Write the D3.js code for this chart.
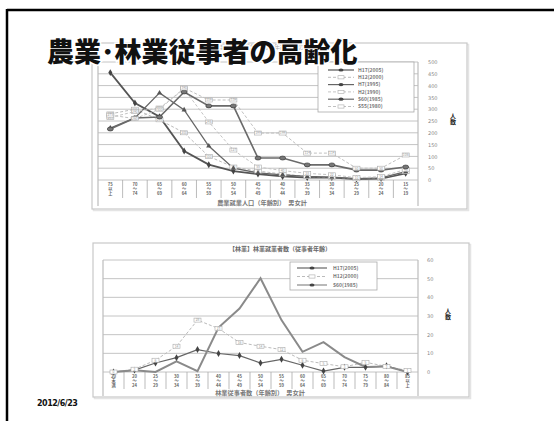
<!DOCTYPE html>
<html><head><meta charset="utf-8">
<script src="https://cdn.jsdelivr.net/npm/d3@7"></script>
<style>body{margin:0;background:#fff} svg{display:block;font-family:"Noto Sans CJK JP","Noto Sans",sans-serif}</style>
</head><body><svg id="c" width="554" height="421"></svg>
<script>
// ---------- data ----------
const topCategories = ["75|以|上","70|～|74","65|～|69","60|～|64","55|～|59","50|～|54","45|～|49","40|～|44","35|～|39","30|～|34","25|～|29","20|～|24","15|～|19"];
const topSeriesNames = ["H17(2005)","H12(2000)","H7(1995)","H2(1990)","S60(1985)","S55(1980)"];
const topH17 = [455, 326, 268, 123, 65, 38, 25, 15, 10, 10, 4, 6, 28];
const topH12 = [280, 300, 255, 200, 100, 55, 38, 25, 15, 12, 5, 8, 35];
const topH7  = [220, 263, 369, 297, 144, 50, 30, 22, 15, 12, 6, 9, 35];
const topH2  = [265, 290, 305, 385, 246, 127, 55, 40, 28, 22, 10, 14, 45];
const topS60 = [216, 263, 267, 373, 314, 314, 93, 93, 64, 64, 42, 42, 55];
const topS55 = [275, 260, 300, 390, 339, 339, 199, 199, 114, 114, 50, 50, 106];
const topTicks = [0,50,100,150,200,250,300,350,400,450,500];

const botCategories = ["20|未|満","20|～|24","25|～|29","30|～|34","35|～|39","40|～|44","45|～|49","50|～|54","55|～|59","60|～|64","65|～|69","70|～|74","75|～|79","80|～|84","85|以|上"];
const botSeriesNames = ["H17(2005)","H12(2000)","S60(1985)"];
const botH17 = [0, 1, 4.8, 7.7, 12, 9.9, 8.8, 4.8, 6.8, 3.6, 0.5, 2.5, 2.5, 3.3, 0];
const botH12 = [0, 1.5, 6.3, 13.8, 27.8, 23.3, 15.8, 13.8, 12, 6.3, 4.5, 2.8, 5.2, 3, 0.8];
const botS60 = [0, 1, 0, 5.7, 0.5, 23.8, 34, 50.2, 27.8, 10.8, 16, 8, 2.7, 3, 0];
const botTicks = [0,10,20,30,40,50,60];

// ---------- drawing ----------
const svg = d3.select("#c");

function frame(x0,y0,x1,y1){
  svg.append("rect").attr("x",x0+1.5).attr("y",y0+1.5).attr("width",x1-x0).attr("height",y1-y0)
    .attr("fill","none").attr("stroke","#e4e4e4").attr("stroke-width",1.5);
  svg.append("rect").attr("x",x0).attr("y",y0).attr("width",x1-x0).attr("height",y1-y0)
    .attr("fill","#fff").attr("stroke","#c8c8c8").attr("stroke-width",1.2);
}

function chart(opt){
  const x = d3.scaleBand().domain(opt.cats).range([opt.left, opt.right]);
  const y = d3.scaleLinear().domain(opt.domain).range([opt.bottom, opt.top]);
  const g = svg.append("g");
  g.append("g").selectAll("line").data(opt.ticks).join("line")
    .attr("x1",opt.left).attr("x2",opt.right).attr("y1",d=>y(d)).attr("y2",d=>y(d))
    .attr("stroke","#c4c4c4").attr("stroke-width",1);
  g.append("line").attr("x1",opt.left).attr("x2",opt.left).attr("y1",opt.top).attr("y2",opt.bottom+opt.labH)
    .attr("stroke","#bdbdbd").attr("stroke-width",1.2);
  g.append("line").attr("x1",opt.right).attr("x2",opt.right).attr("y1",opt.top).attr("y2",opt.bottom+opt.labH)
    .attr("stroke","#bdbdbd").attr("stroke-width",1.2);
  g.append("g").selectAll("line").data(opt.cats.slice(1)).join("line")
    .attr("x1",d=>x(d)).attr("x2",d=>x(d)).attr("y1",opt.bottom).attr("y2",opt.bottom+opt.sepH)
    .attr("stroke","#aaa").attr("stroke-width",0.8);
  const lab = g.append("g").selectAll("text").data(opt.cats).join("text")
    .attr("text-anchor","middle").attr("font-size",4.2).attr("fill","#666").attr("font-weight","bold");
  lab.each(function(d){
    const t = d3.select(this);
    d.split("|").forEach((p,i)=>{
      t.append("tspan").attr("x",x(d)+x.bandwidth()/2).attr("y",opt.bottom+6+i*4.4).text(p);
    });
  });
  const ax = g.append("g").attr("transform",`translate(${opt.axisX},0)`)
    .call(d3.axisRight(y).tickValues(opt.ticks).tickSize(0).tickPadding(0));
  ax.select(".domain").remove();
  ax.selectAll("text").attr("font-size",5).attr("fill","#888").attr("font-family","'DejaVu Sans',sans-serif");
  g.append("text").attr("x",opt.unitX).attr("y",opt.unitY).attr("font-size",6).attr("font-weight","bold")
    .attr("fill","#222").attr("text-anchor","middle").selectAll("tspan").data(["人","数"]).join("tspan")
    .attr("x",opt.unitX).attr("dy",(d,i)=>i?5.5:0).text(d=>d);
  g.append("text").attr("x",opt.titleX).attr("y",opt.titleY).attr("text-anchor","middle")
    .attr("font-size",6.2).attr("fill","#777").attr("font-weight","bold").text(opt.xTitle);
  const cx = d=>x(d)+x.bandwidth()/2;
  opt.series.forEach(s=>{
    const line = d3.line().x((v,i)=>cx(opt.cats[i])).y(v=>y(v));
    g.append("path").attr("d",line(s.values)).attr("fill","none")
      .attr("stroke",s.color).attr("stroke-width",s.width).attr("stroke-dasharray",s.dash||null);
  });
  opt.series.forEach(s=>{
    const m = g.append("g").selectAll("g").data(s.values).join("g")
      .attr("transform",(v,i)=>`translate(${cx(opt.cats[i])},${y(v)})`);
    if(s.marker==="box"){
      m.append("rect").attr("x",-3.5).attr("y",-2).attr("width",7).attr("height",4)
        .attr("fill","#fff").attr("stroke","#aaa").attr("stroke-width",0.6);
      m.append("text").attr("text-anchor","middle").attr("y",1.3).attr("font-size",3.4).attr("fill","#999").text(v=>Math.round(v));
    } else if(s.marker==="diamond"){
      m.append("path").attr("d",d3.symbol(d3.symbolDiamond,14)).attr("fill","#444");
    } else if(s.marker==="triangle"){
      m.append("path").attr("d",d3.symbol(d3.symbolTriangle,12)).attr("fill","#555");
    } else if(s.marker==="circle"){
      m.append("ellipse").attr("rx",3).attr("ry",2).attr("fill","#777").attr("stroke","#333").attr("stroke-width",0.6);
    }
  });
  const L = opt.legend;
  g.append("rect").attr("x",L.x).attr("y",L.y).attr("width",L.w).attr("height",L.h)
    .attr("fill","#fff").attr("stroke","#aaa").attr("stroke-width",0.8);
  opt.series.forEach((s,i)=>{
    const ly = L.y + L.pad + i*L.step;
    g.append("line").attr("x1",L.x+L.lx0).attr("x2",L.x+L.lx1).attr("y1",ly).attr("y2",ly)
      .attr("stroke",s.color).attr("stroke-width",Math.min(s.width,1.2)).attr("stroke-dasharray",s.dash||null);
    const mx = L.x+(L.lx0+L.lx1)/2;
    if(s.marker==="box"){
      g.append("rect").attr("x",mx-3).attr("y",ly-1.6).attr("width",6).attr("height",3.2)
        .attr("fill","#fff").attr("stroke","#aaa").attr("stroke-width",0.6);
    } else {
      g.append("ellipse").attr("cx",mx).attr("cy",ly).attr("rx",2.5).attr("ry",1.6).attr("fill","#444");
    }
    g.append("text").attr("x",L.x+L.tx).attr("y",ly+1.8).attr("font-size",5).attr("fill","#777")
      .attr("font-weight","bold").text(s.name);
  });
}

// slide border
svg.append("line").attr("x1",7).attr("x2",554).attr("y1",10).attr("y2",10).attr("stroke","#000").attr("stroke-width",2.5);
svg.append("line").attr("x1",7).attr("x2",7).attr("y1",9).attr("y2",421).attr("stroke","#000").attr("stroke-width",2.5);

// top chart
frame(92,43,467,209);
svg.append("text").attr("x",262).attr("y",49).attr("text-anchor","middle").attr("font-size",6)
  .attr("fill","#aaa").text("【農業】農業就業人口（年齢別）の推移");
chart({
  cats: topCategories, domain:[0,500], ticks: topTicks,
  left:98, right:418, top:62, bottom:180, labH:26, sepH:18, axisX:428,
  unitX:453, unitY:118, titleX:262, titleY:204.5, xTitle:"農業就業人口（年齢別）　男女計",
  series:[
    {name:topSeriesNames[0], values:topH17, color:"#555", width:1.8, marker:"diamond"},
    {name:topSeriesNames[1], values:topH12, color:"#bbb", width:1, dash:"3,2", marker:"box"},
    {name:topSeriesNames[2], values:topH7,  color:"#666", width:1.3, marker:"triangle"},
    {name:topSeriesNames[3], values:topH2,  color:"#c4c4c4", width:1, dash:"3,2", marker:"box"},
    {name:topSeriesNames[4], values:topS60, color:"#6a6a6a", width:1.6, marker:"circle"},
    {name:topSeriesNames[5], values:topS55, color:"#c0c0c0", width:1, dash:"3,2", marker:"box"}
  ],
  legend:{x:318,y:62,w:96,h:50,pad:8,step:7.3,lx0:10,lx1:36,tx:40}
});

// bottom chart
frame(93,243,469,397);
svg.append("text").attr("x",280).attr("y",251).attr("text-anchor","middle").attr("font-size",6)
  .attr("fill","#666").attr("font-weight","bold").text("【林業】林業就業者数（従事者年齢）");
chart({
  cats: botCategories, domain:[0,60], ticks: botTicks,
  left:103, right:418, top:260, bottom:372, labH:24, sepH:17, axisX:427,
  unitX:448, unitY:313, titleX:260, titleY:394.5, xTitle:"林業従事者数（年齢別）　男女計",
  series:[
    {name:botSeriesNames[0], values:botH17, color:"#666", width:1.2, marker:"diamond"},
    {name:botSeriesNames[1], values:botH12, color:"#bbb", width:1, dash:"3,2", marker:"box"},
    {name:botSeriesNames[2], values:botS60, color:"#8a8a8a", width:2, marker:"none"}
  ],
  legend:{x:290,y:262,w:87,h:28,pad:6,step:8.5,lx0:7,lx1:37,tx:43}
});

// main title
svg.append("text").attr("x",47).attr("y",62).attr("font-size",27).attr("font-weight","900")
  .attr("fill","#111").attr("stroke","#fff").attr("stroke-width",3).attr("paint-order","stroke")
  .text("農業･林業従事者の高齢化");

// date
svg.append("text").attr("x",37).attr("y",406).attr("font-size",8).attr("font-weight","bold")
  .attr("fill","#111").attr("font-family","'DejaVu Sans',sans-serif").attr("letter-spacing",-0.5).text("2012/6/23");
</script></body></html>
